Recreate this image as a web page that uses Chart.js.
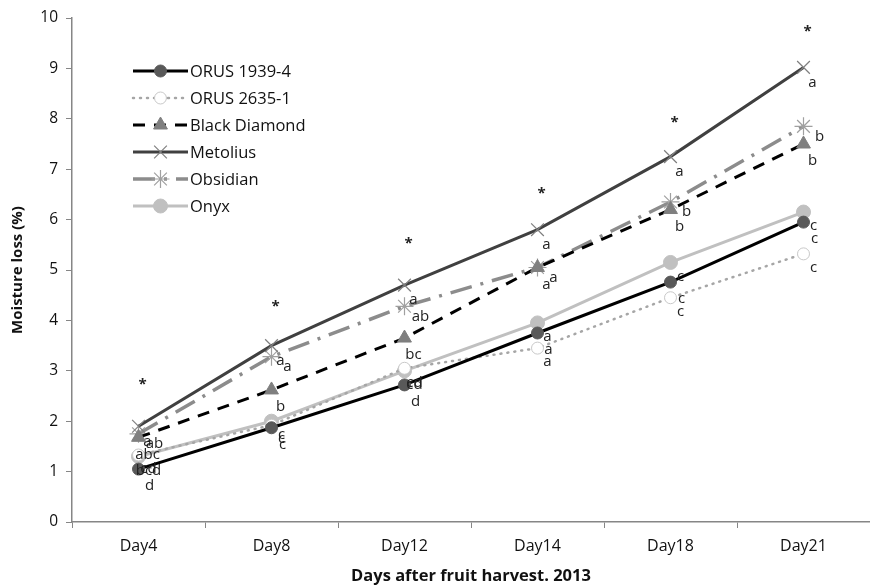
<!DOCTYPE html>
<html>
<head>
<meta charset="utf-8">
<script src="https://cdn.jsdelivr.net/npm/chart.js@4/dist/chart.umd.min.js"></script>
<style>
  html, body { margin: 0; padding: 0; background: #fff; }
  #wrap { width: 870px; height: 586px; }
</style>
</head>
<body>
<div id="wrap"><canvas id="chart"></canvas></div>
<script>
// data
let days = ["Day4", "Day8", "Day12", "Day14", "Day18", "Day21"];
let orus1939 = [1.05, 1.87, 2.72, 3.75, 4.76, 5.95];
let orus2635 = [1.33, 1.92, 3.05, 3.45, 4.45, 5.32];
let blackDiamond = [1.68, 2.62, 3.65, 5.05, 6.2, 7.5];
let metolius = [1.9, 3.5, 4.7, 5.8, 7.25, 9.02];
let obsidian = [1.75, 3.28, 4.28, 5.05, 6.35, 7.85];
let onyx = [1.3, 2.0, 3.0, 3.95, 5.15, 6.15];

// significance letters, one list per series
let lettersOrus1939 = ["d", "c", "d", "a", "c", "c"];
let lettersOrus2635 = ["cd", "c", "cd", "a", "c", "c"];
let lettersBlackDiamond = ["abc", "b", "bc", "a", "b", "b"];
let lettersMetolius = ["a", "a", "a", "a", "a", "a"];
let lettersObsidian = ["ab", "a", "ab", "a", "b", "b"];
let lettersOnyx = ["bcd", "c", "cd", "a", "c", "c"];
// asterisk heights (y value) per day
let starLevels = [2.8, 4.35, 5.6, 6.6, 8.0, 9.8];

let font = "'Open Sans', sans-serif";

let series = [
  { label: "ORUS 1939-4", data: orus1939, letters: lettersOrus1939, off: [11, 17],
    borderColor: "#000", borderWidth: 3, pointStyle: "circle", pointRadius: 6,
    pointBackgroundColor: "#595959", pointBorderColor: "#595959" },
  { label: "ORUS 2635-1", data: orus2635, letters: lettersOrus2635, off: [10, 14],
    borderColor: "#a6a6a6", borderWidth: 2.5, borderDash: [1, 6], borderCapStyle: "round",
    pointStyle: "circle", pointRadius: 6, pointBackgroundColor: "#fff", pointBorderColor: "#c8c8c8" },
  { label: "Black Diamond", data: blackDiamond, letters: lettersBlackDiamond, off: [9, 17],
    borderColor: "#000", borderWidth: 3, borderDash: [12, 9], pointStyle: "triangle", pointRadius: 8,
    pointBackgroundColor: "#7f7f7f", pointBorderColor: "#7f7f7f" },
  { label: "Metolius", data: metolius, letters: lettersMetolius, off: [9, 15],
    borderColor: "#404040", borderWidth: 3, pointStyle: "crossRot", pointRadius: 9,
    pointBackgroundColor: "#808080", pointBorderColor: "#808080", pointBorderWidth: 1.2 },
  { label: "Obsidian", data: obsidian, letters: lettersObsidian, off: [16, 10],
    borderColor: "#8c8c8c", borderWidth: 3.5, borderDash: [22, 9, 3, 9], pointStyle: "star", pointRadius: 9,
    pointBackgroundColor: "#a0a0a0", pointBorderColor: "#a0a0a0", pointBorderWidth: 1.2 },
  { label: "Onyx", data: onyx, letters: lettersOnyx, off: [10, 14],
    borderColor: "#c0c0c0", borderWidth: 3, pointStyle: "circle", pointRadius: 7,
    pointBackgroundColor: "#c0c0c0", pointBorderColor: "#c0c0c0" },
];

let datasets = series.map((s) => ({
  label: s.label,
  data: s.data,
  borderColor: s.borderColor,
  borderWidth: s.borderWidth,
  borderDash: s.borderDash || [],
  borderCapStyle: s.borderCapStyle || "butt",
  pointStyle: s.pointStyle,
  pointRadius: s.pointRadius,
  pointHoverRadius: s.pointRadius,
  pointBackgroundColor: s.pointBackgroundColor,
  pointBorderColor: s.pointBorderColor,
  pointBorderWidth: s.pointBorderWidth || 1,
  tension: 0,
  fill: false,
}));

// letters, asterisks and the legend box
const extras = {
  id: "extras",
  afterDatasetsDraw(chart) {
    const ctx = chart.ctx;
    const x = chart.scales.x, y = chart.scales.y;
    ctx.save();
    ctx.fillStyle = "#222";
    ctx.font = "15px " + font;
    ctx.textAlign = "center";
    ctx.textBaseline = "middle";
    series.forEach((s, i) => {
      const meta = chart.getDatasetMeta(i);
      meta.data.forEach((pt, j) => {
        ctx.fillText(s.letters[j], pt.x + s.off[0], pt.y + s.off[1]);
      });
    });
    ctx.font = "bold 15px " + font;
    starLevels.forEach((v, j) => {
      ctx.fillText("*", x.getPixelForValue(j) + 4, y.getPixelForValue(v) + 4);
    });

    // legend
    const x0 = 133, x1 = 188, top = 71, step = 27;
    series.forEach((s, i) => {
      const cy = top + i * step;
      ctx.beginPath();
      ctx.setLineDash(s.borderDash || []);
      ctx.lineCap = s.borderCapStyle || "butt";
      ctx.lineWidth = s.borderWidth;
      ctx.strokeStyle = s.borderColor;
      ctx.moveTo(x0, cy);
      ctx.lineTo(x1, cy);
      ctx.stroke();
      ctx.setLineDash([]);
      ctx.fillStyle = s.pointBackgroundColor;
      ctx.strokeStyle = s.pointBorderColor;
      ctx.lineWidth = s.pointBorderWidth || 1;
      Chart.helpers.drawPoint(ctx, {
        pointStyle: s.pointStyle, radius: s.pointRadius, rotation: 0,
        borderWidth: s.pointBorderWidth || 1,
      }, (x0 + x1) / 2, cy);
      ctx.fillStyle = "#111";
      ctx.font = "16.5px " + font;
      ctx.textAlign = "left";
      ctx.fillText(s.label, x1 + 2, cy + 1);
    });
    ctx.restore();
  },
};

new Chart("chart", {
  type: "line",
  data: { labels: days, datasets: datasets },
  plugins: [extras],
  options: {
    responsive: true,
    maintainAspectRatio: false,
    animation: false,
    layout: { autoPadding: false, padding: { top: 18, right: 0, left: 0, bottom: 0 } },
    plugins: { legend: { display: false }, tooltip: { enabled: false } },
    scales: {
      x: {
        offset: true,
        grid: { display: true, drawOnChartArea: false, offset: true, tickLength: 6, color: "#868686" },
        border: { color: "#868686", width: 1.5 },
        ticks: { color: "#111", font: { family: font, size: 16 }, padding: 9 },
        title: { display: true, text: "Days after fruit harvest. 2013", color: "#111",
          font: { family: font, size: 16.5, weight: "bold" }, padding: { top: 0, bottom: 0 } },
        afterFit: (s) => { s.height = 64; },
      },
      y: {
        min: 0,
        max: 10,
        ticks: { stepSize: 1, color: "#111", font: { family: font, size: 15.5 }, padding: 8 },
        grid: { display: true, drawOnChartArea: false, tickLength: 6, color: "#868686" },
        border: { color: "#868686", width: 1.5 },
        title: { display: true, text: "Moisture loss (%)", color: "#111",
          font: { family: font, size: 15, weight: "bold" }, padding: { top: 9, bottom: 0 } },
        afterFit: (s) => { s.width = 72; },
      },
    },
  },
});
</script>
</body>
</html>
